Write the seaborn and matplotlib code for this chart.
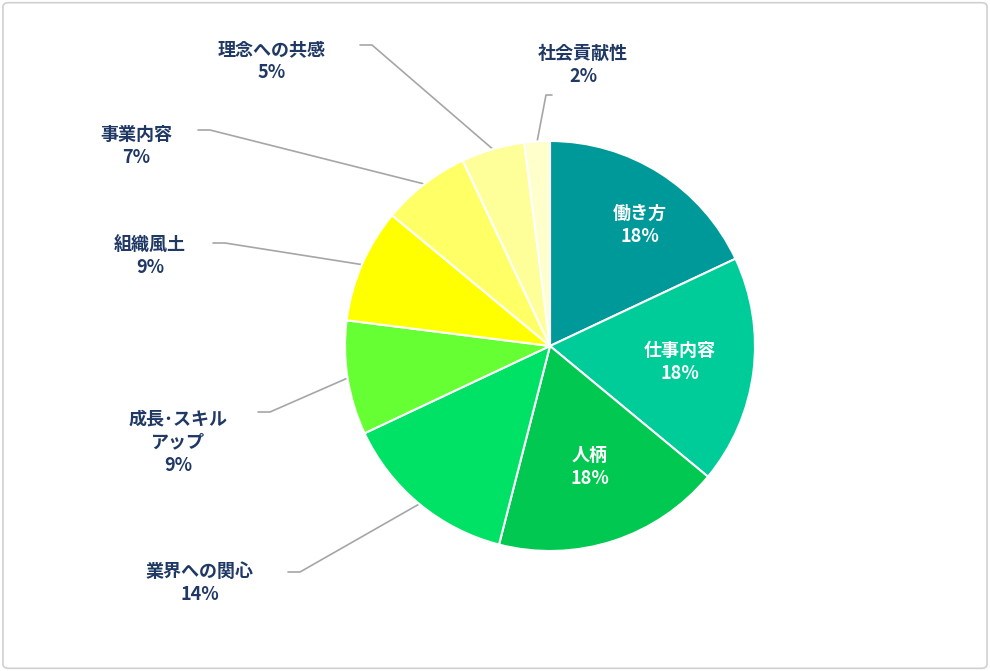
import matplotlib
matplotlib.use("Agg")
import matplotlib.pyplot as plt
import seaborn as sns
import numpy as np
from matplotlib.patches import FancyBboxPatch

sns.set_theme(style="white")
plt.rcParams['font.family'] = ['Noto Sans CJK JP', 'DejaVu Sans']

categories = ["働き方", "仕事内容", "人柄", "業界への関心", "成長･スキル\nアップ",
              "組織風土", "事業内容", "理念への共感", "社会貢献性"]
values = [18, 18, 18, 14, 9, 9, 7, 5, 2]
colors = ["#009999", "#00CC99", "#00C850", "#00E266", "#66FF33",
          "#FFFF00", "#FFFF66", "#FFFF99", "#FFFFCC"]

W, H, R = 990, 671, 205
CX, CY = 550, 346

fig = plt.figure(figsize=(9.9, 6.71), dpi=100)
fig.patches.append(FancyBboxPatch((0.003, 0.004), 0.994, 0.992, boxstyle="round,pad=0,rounding_size=0.006",
                                  transform=fig.transFigure, fill=False, ec="#D0D0D0", lw=1.2))
ax = fig.add_axes([0, 0, 1, 1])


def px(x, y):
    return (x - CX) / R, (CY - y) / R


wedges, _ = ax.pie(values, colors=colors, startangle=90, counterclock=False, radius=1.0,
                   wedgeprops=dict(edgecolor="white", linewidth=1.5))
ax.set_xlim(-CX / R, (W - CX) / R)
ax.set_ylim(-(H - CY) / R, CY / R)
ax.set_aspect("equal")
ax.axis("off")

navy = "#1F3864"
# inner labels
inner = {0: (640, 225), 1: (680, 362), 2: (590, 467)}
for i, (x, y) in inner.items():
    ax.text(*px(x, y), f"{categories[i]}\n{values[i]}%", color="white", ha="center", va="center",
            fontsize=13, fontweight="bold", linespacing=1.3)

# outer labels: text position, leader start point
outer = {
    3: ((200, 583), (288, 572)),
    4: ((178, 442), (258, 412)),
    5: ((150, 256), (213, 243)),
    6: ((136, 146), (198, 130)),
    7: ((272, 61), (360, 45)),
    8: ((583, 65), (552, 95)),
}
for i, ((tx, ty), (lx, ly)) in outer.items():
    ax.text(*px(tx, ty), f"{categories[i]}\n{values[i]}%", color=navy, ha="center", va="center",
            fontsize=13, fontweight="bold", linespacing=1.3)
    w = wedges[i]
    ang = np.deg2rad((w.theta1 + w.theta2) / 2)
    ex, ey = np.cos(ang), np.sin(ang)
    sx, sy = px(lx, ly)
    hx = sx + (12 / R if lx < CX else -6 / R)
    ax.plot([sx, hx, ex], [sy, sy, ey], color="#A6A6A6", lw=1.2, zorder=0)

fig.savefig("out.png", dpi=100)
